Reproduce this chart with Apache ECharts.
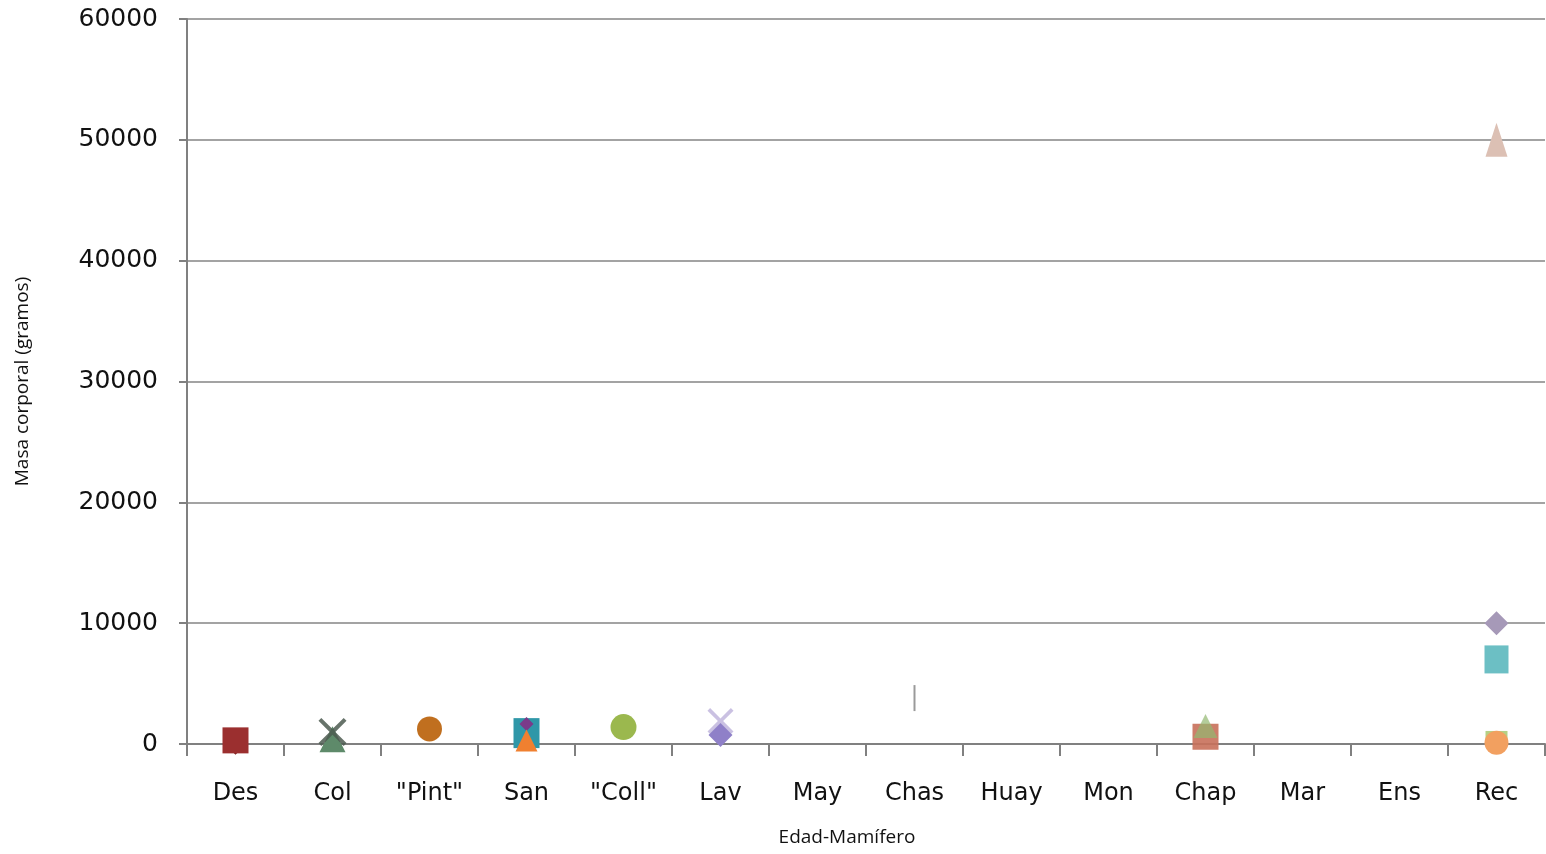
<!DOCTYPE html>
<html>
<head>
<meta charset="utf-8">
<script src="https://cdn.jsdelivr.net/npm/echarts@6/dist/echarts.min.js"></script>
<style>
  html, body { margin: 0; padding: 0; background: #fff; }
  #chart { width: 1546px; height: 854px; }
</style>
</head>
<body>
<div id="chart"></div>
<script>
const categories = ['Des', 'Col', '"Pint"', 'San', '"Coll"', 'Lav', 'May', 'Chas', 'Huay', 'Mon', 'Chap', 'Mar', 'Ens', 'Rec']
const yTicks = [0, 10000, 20000, 30000, 40000, 50000, 60000]

// one array per marker style, one slot per category (null = no marker)
const darkRedDiamond = [100, null, null, null, null, null, null, null, null, null, null, null, null, null]
const darkRedSquare  = [300, null, null, null, null, null, null, null, null, null, null, null, null, null]
const greyGreenTri   = [null, 400, null, null, null, null, null, null, null, null, null, null, null, null]
const greyCross      = [null, 1000, null, null, null, null, null, null, null, null, null, null, null, null]
const brownCircle    = [null, null, 1250, null, null, null, null, null, null, null, null, null, null, null]
const tealSquare     = [null, null, null, 900, null, null, null, null, null, null, null, null, null, null]
const purpleDiamond  = [null, null, null, 1650, null, null, null, null, null, null, null, null, null, null]
const orangeTri      = [null, null, null, 300, null, null, null, null, null, null, null, null, null, null]
const limeCircle     = [null, null, null, null, 1400, null, null, null, null, null, null, null, null, null]
const lilacCross     = [null, null, null, null, null, 1900, null, null, null, null, null, null, null, null]
const lilacDiamond   = [null, null, null, null, null, 750, null, null, null, null, null, null, null, null]
const greyDash       = [null, null, null, null, null, null, null, 3800, null, null, null, null, null, null]
const roseSquare     = [null, null, null, null, null, null, null, null, null, null, 600, null, null, null]
const greenTri       = [null, null, null, null, null, null, null, null, null, null, 1500, null, null, null]
const beigeTri       = [null, null, null, null, null, null, null, null, null, null, null, null, null, 50000]
const mauveDiamond   = [null, null, null, null, null, null, null, null, null, null, null, null, null, 10000]
const aquaSquare     = [null, null, null, null, null, null, null, null, null, null, null, null, null, 7000]
const greenSquare    = [null, null, null, null, null, null, null, null, null, null, null, null, null, 500]
const orangeCircle   = [null, null, null, null, null, null, null, null, null, null, null, null, null, 100]

const CROSS = 'path://M0,1 L1,0 L5,4 L9,0 L10,1 L6,5 L10,9 L9,10 L5,6 L1,10 L0,9 L4,5 Z'
const DASH = 'path://M0,0 L1,0 L1,10 L0,10 Z'

function pts(arr) {
  const out = []
  arr.forEach((v, i) => { if (v != null) out.push([categories[i], v]) })
  return out
}

function mk(values, symbol, size, color, opacity = 1) {
  return {
    type: 'scatter',
    data: pts(values),
    symbol,
    symbolSize: size,
    itemStyle: { color, opacity },
    z: 3,
  }
}

const chart = echarts.init(document.getElementById('chart'))
const font = '"DejaVu Sans", sans-serif'

chart.setOption({
  backgroundColor: '#fff',
  animation: false,
  grid: { left: 187, right: 1, top: 19, bottom: 110 },
  xAxis: {
    type: 'category',
    data: categories,
    boundaryGap: true,
    name: 'Edad-Mamífero',
    nameLocation: 'middle',
    nameGap: 84,
    nameTextStyle: { fontFamily: 'Open Sans', fontSize: 19, color: '#111', padding: [0, 38, 0, 0] },
    axisLine: { lineStyle: { color: '#808080', width: 2 } },
    axisTick: { show: true, alignWithLabel: false, length: 12, lineStyle: { color: '#808080', width: 2 } },
    axisLabel: { margin: 38, fontFamily: font, fontSize: 24, color: '#111', interval: 0 },
    splitLine: { show: false },
  },
  yAxis: {
    type: 'value',
    min: 0,
    max: 60000,
    interval: 10000,
    name: 'Masa corporal (gramos)',
    nameLocation: 'middle',
    nameGap: 155,
    nameRotate: 90,
    nameTextStyle: { fontFamily: 'Open Sans', fontSize: 19, color: '#111' },
    axisLine: { show: true, lineStyle: { color: '#808080', width: 2 } },
    axisTick: { show: true, length: 8, lineStyle: { color: '#808080', width: 2 } },
    axisLabel: {
      margin: 29,
      fontFamily: font,
      fontSize: 25,
      color: '#111',
      formatter: v => (yTicks.includes(v) ? String(v) : ''),
    },
    splitLine: { show: true, lineStyle: { color: '#858585', width: 1.5 } },
  },
  series: [
    mk(darkRedDiamond, 'diamond', 24, '#7a2323'),
    mk(darkRedSquare, 'rect', 26, '#9b2f2f'),
    mk(greyGreenTri, 'triangle', 26, '#5e8a6a'),
    mk(greyCross, CROSS, 28, '#4c5a50', 0.85),
    mk(brownCircle, 'circle', 25, '#c06f1f'),
    mk(tealSquare, 'rect', [26, 30], '#2f97a8'),
    mk(purpleDiamond, 'diamond', 14, '#7a3a8a'),
    mk(orangeTri, 'triangle', 22, '#f08030'),
    mk(limeCircle, 'circle', 26, '#9bb84e'),
    mk(lilacCross, CROSS, 26, '#b4a6d6', 0.7),
    mk(lilacDiamond, 'diamond', 24, '#8f80c8'),
    mk(greyDash, DASH, [2, 26], '#9a9a9a'),
    mk(roseSquare, 'rect', 26, '#c8705a', 0.9),
    mk(greenTri, 'triangle', 24, '#93b870', 0.7),
    mk(beigeTri, 'triangle', [22, 34], '#dcc0b4'),
    mk(mauveDiamond, 'diamond', 24, '#a699b8'),
    mk(aquaSquare, 'rect', [24, 28], '#6cbfc4'),
    mk(greenSquare, 'rect', [22, 14], '#a8c870', 0.85),
    mk(orangeCircle, 'circle', 24, '#f2a060'),
  ],
})
</script>
</body>
</html>
